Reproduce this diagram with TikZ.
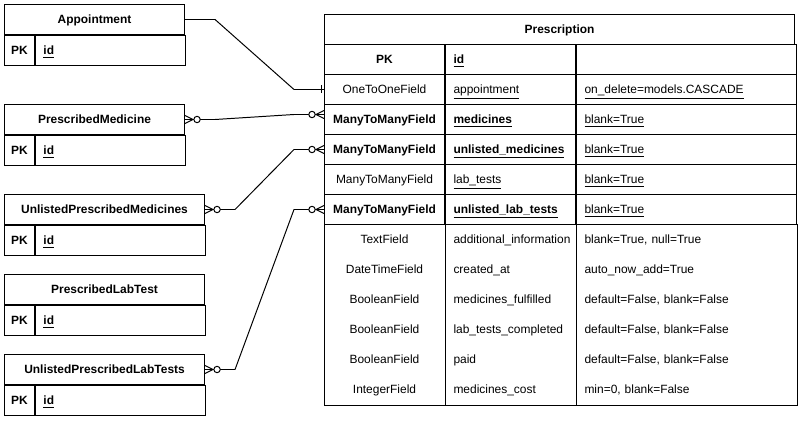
\documentclass[tikz,border=0pt]{standalone}
\usepackage{fontspec}
\setmainfont{Liberation Sans}
\usetikzlibrary{positioning}

% zero-or-many end: crow's foot touching the box, open circle behind it
\newcommand{\zeromany}[2]{%
  \begin{scope}[shift={#1}, xscale=#2]
    \draw (-8,0) -- (0,-4) (-8,0) -- (0,4);
    \draw[fill=white] (-12,0) circle (0.08cm);
  \end{scope}}

\begin{document}
\begin{tikzpicture}[x=0.025cm, y=-0.025cm, line width=0.7pt,
  every node/.style={font=\fontsize{8.5}{10}\selectfont},
  cell/.style={draw, minimum height=0.75cm, inner sep=0pt, text height=1.6ex, text depth=0.45ex},
  bodycell/.style={cell, draw=none},
  typecol/.style={minimum width=3cm},
  namecol/.style={text width=2.85cm, inner xsep=0.2cm},
  optcol/.style={text width=5.1cm, inner xsep=0.2cm}]

\useasboundingbox (0,0) rectangle (800,420);

% Related models
\foreach \n/\t/\w/\iw/\y in {appt/Appointment/4.5cm/3.35cm/4,
    pmed/PrescribedMedicine/4.5cm/3.35cm/104,
    upmed/UnlistedPrescribedMedicines/5cm/3.85cm/194,
    plab/PrescribedLabTest/5cm/3.85cm/274,
    uplab/UnlistedPrescribedLabTests/5cm/3.85cm/354} {
    \node[cell, minimum width=\w, anchor=north west] (\n) at (4,\y) {\textbf{\t}};
    \node[cell, minimum width=0.75cm, anchor=north west] (\n-pk) at (\n.south west) {\textbf{PK}};
    \node[cell, text width=\iw, inner xsep=0.2cm, right=0pt of \n-pk] (\n-id) {\textbf{\underline{id}}};
}

% Prescription model
\node[cell, minimum width=11.75cm, anchor=north west] (presc) at (324,14) {\textbf{Prescription}};

% Key and relation fields
\foreach \ty/\nm/\op [count=\i] in {
    {\textbf{PK}}/{\textbf{\underline{id}}}/{},
    {OneToOneField}/{\underline{appointment}}/{\underline{on\_delete=models.CASCADE}},
    {\textbf{ManyToManyField}}/{\textbf{\underline{medicines}}}/{\underline{blank=True}},
    {\textbf{ManyToManyField}}/{\textbf{\underline{unlisted\_medicines}}}/{\underline{blank=True}},
    {ManyToManyField}/{\underline{lab\_tests}}/{\underline{blank=True}},
    {\textbf{ManyToManyField}}/{\textbf{\underline{unlisted\_lab\_tests}}}/{\underline{blank=True}}} {
    \node[cell, typecol, anchor=north west] (f\i) at (324,{14+30*\i}) {\ty};
    \node[cell, namecol, right=0pt of f\i] (n\i) {\nm};
    \node[cell, optcol, right=0pt of n\i] (o\i) {\op};
}

% Plain fields
\foreach \ty/\nm/\op [count=\i from 7] in {
    TextField/additional\_information/{blank=True, null=True},
    DateTimeField/created\_at/auto\_now\_add=True,
    BooleanField/medicines\_fulfilled/{default=False, blank=False},
    BooleanField/lab\_tests\_completed/{default=False, blank=False},
    BooleanField/paid/{default=False, blank=False},
    IntegerField/medicines\_cost/{min=0, blank=False}} {
    \node[bodycell, typecol, anchor=north west] (f\i) at (324,{14+30*\i}) {\ty};
    \node[bodycell, namecol, right=0pt of f\i] (n\i) {\nm};
    \node[bodycell, optcol, right=0pt of n\i] (o\i) {\op};
}
\draw (f7.north west) rectangle (o12.south east);
\draw (n7.north west) -- (n12.south west);
\draw (o7.north west) -- (o12.south west);

% Appointment -- appointment (one)
\draw (appt.east) -- ++(30,0) -- ([xshift=-0.75cm]f2.west) -- (f2.west);
\draw (f2.west) ++(-2.5,-4) -- ++(0,8);

% PrescribedMedicine -- medicines
\draw (pmed.east) -- ++(30,0) -- ([xshift=-0.75cm, yshift=0.125cm]f3.west) -- ([yshift=0.125cm]f3.west);
\zeromany{(pmed.east)}{-1}
\zeromany{([yshift=0.125cm]f3.west)}{1}

% UnlistedPrescribedMedicines -- unlisted_medicines
\draw (upmed.east) -- ++(30,0) -- ([xshift=-0.75cm]f4.west) -- (f4.west);
\zeromany{(upmed.east)}{-1}
\zeromany{(f4.west)}{1}

% UnlistedPrescribedLabTests -- unlisted_lab_tests
\draw (uplab.east) -- ++(30,0) -- ([xshift=-0.75cm]f6.west) -- (f6.west);
\zeromany{(uplab.east)}{-1}
\zeromany{(f6.west)}{1}

\end{tikzpicture}
\end{document}
